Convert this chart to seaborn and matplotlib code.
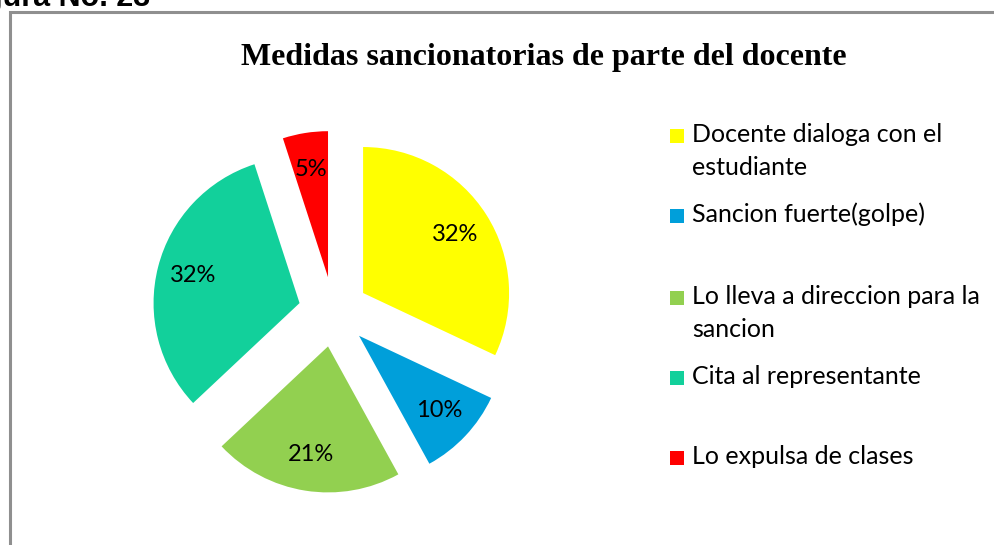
import matplotlib
matplotlib.use("Agg")
import matplotlib.pyplot as plt
import seaborn as sns
from matplotlib.patches import Rectangle

sns.set_theme(style="white")
plt.rcParams['font.family'] = ['Lato', 'DejaVu Sans']

# Data
categories = ["Docente dialoga con el\nestudiante",
              "Sancion fuerte(golpe)",
              "Lo lleva a direccion para la\nsancion",
              "Cita al representante",
              "Lo expulsa de clases"]
percentages = [32, 10, 21, 32, 5]
colors = ["#FFFF00", "#009FDA", "#92D050", "#12D09B", "#FF0000"]
title = "Medidas sancionatorias de parte del docente"
caption = "Figura No. 23"

W, H = 995, 545
fig = plt.figure(figsize=(W / 100, H / 100), dpi=100)
fig.patch.set_facecolor("white")

# outer frame (partly cut off like in the reference)
fig.patches.append(Rectangle((10.5 / W, -0.1), 1.2, (H - 11.5) / H + 0.1,
                             transform=fig.transFigure, fill=False,
                             edgecolor="#8f8f8f", linewidth=2.2))

# caption above the frame, cut off at the top edge as in the reference
fig.text(150 / W, (H - 6) / H, caption, ha="right", va="baseline",
         fontsize=22, fontweight="bold", family=["Liberation Sans", "DejaVu Sans"],
         color="black")

# pie axes
cx, cy, R = 333.5, 311.8, 146.0
half = 200.0
ax = fig.add_axes([(cx - half) / W, (H - cy - half) / H, 2 * half / W, 2 * half / H])
wedges, texts, autotexts = ax.pie(
    percentages, colors=colors, startangle=90, counterclock=False,
    explode=[0.24] * len(percentages), radius=1.0,
    autopct="%1.0f%%", pctdistance=0.75,
    wedgeprops=dict(linewidth=0),
    textprops=dict(fontsize=17, color="black"))
ax.set_xlim(-half / R, half / R)
ax.set_ylim(-half / R, half / R)
ax.set_aspect("equal")
ax.axis("off")

fig.text(544 / W, (H - 58) / H, title, ha="center", va="center", color="black",
         fontsize=23, fontweight="bold", family=["Liberation Serif", "DejaVu Serif"])

# legend
entry_y = [135.5, 215.5, 297.5, 377.5, 457.5]
line_gap = 32.5
for lab, col, yy in zip(categories, colors, entry_y):
    fig.patches.append(Rectangle((670 / W, (H - yy - 7) / H), 14 / W, 14 / H,
                                 transform=fig.transFigure, facecolor=col,
                                 edgecolor="none"))
    for i, line in enumerate(lab.split("\n")):
        fig.text(692 / W, (H - yy - 7 - i * line_gap) / H, line, ha="left",
                 va="baseline", fontsize=18, color="black")

fig.savefig("out.png", dpi=100, facecolor="white")
